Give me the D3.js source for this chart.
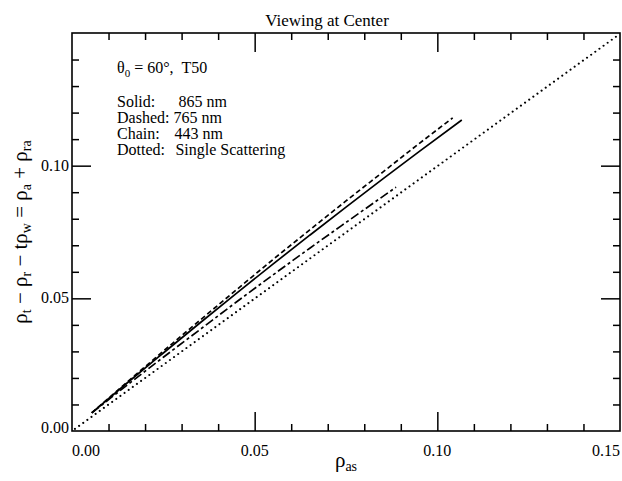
<!DOCTYPE html>
<html>
<head>
<meta charset="utf-8">
<script src="https://cdn.jsdelivr.net/npm/d3@7"></script>
<style>
  html, body { margin: 0; padding: 0; background: #fff; }
  svg { display: block; font-family: "Liberation Serif", "Times New Roman", serif; }
  text { white-space: pre; }
</style>
</head>
<body>
<svg id="chart" width="622" height="481"></svg>
<script>
// Path radiance versus single-scattering reflectance, viewing at scan center
const xTickValues = [0.00, 0.05, 0.10, 0.15];
const yTickValues = [0.00, 0.05, 0.10];
const minorTickValues = d3.range(1, 15).map(i => i / 100).filter(v => Math.abs(v - 0.05) > 1e-9 && Math.abs(v - 0.10) > 1e-9);

// rho_as values and corresponding rho_a + rho_ra
const solid865 = [
  [0.0054, 0.0068], [0.015, 0.0180], [0.025, 0.0294], [0.035, 0.0407],
  [0.045, 0.0519], [0.055, 0.0629], [0.065, 0.0737], [0.075, 0.0844],
  [0.085, 0.0949], [0.095, 0.1053], [0.1067, 0.1172]
];
const dashed765 = [
  [0.0054, 0.0068], [0.015, 0.0183], [0.025, 0.0301], [0.035, 0.0417],
  [0.045, 0.0532], [0.055, 0.0646], [0.065, 0.0757], [0.075, 0.0867],
  [0.085, 0.0975], [0.095, 0.1083], [0.1042, 0.1180]
];
const chain443 = [
  [0.0054, 0.0068], [0.015, 0.0172], [0.025, 0.0278], [0.035, 0.0382],
  [0.045, 0.0486], [0.055, 0.0588], [0.065, 0.0688], [0.075, 0.0786],
  [0.0887, 0.0919]
];
const dottedSingle = [[0.0008, 0.0008], [0.1498, 0.1495]];

const legendRows = [
  { key: "Solid:", value: "865 nm", shift: 5 },
  { key: "Dashed:", value: "765 nm", shift: 0 },
  { key: "Chain:", value: "443 nm", shift: 1 },
  { key: "Dotted:", value: "Single Scattering", shift: 2 }
];

const svg = d3.select("#chart");
const plotLeft = 72, plotRight = 620, plotTop = 33, plotBottom = 431;

const x = d3.scaleLinear().domain([0, 0.15]).range([plotLeft, plotRight]);
const y = d3.scaleLinear().domain([0, 0.15]).range([plotBottom, plotTop]);

const majorLen = 19, minorLen = 7;
const ink = "#000";

// frame
svg.append("rect")
  .attr("x", plotLeft).attr("y", plotTop)
  .attr("width", plotRight - plotLeft).attr("height", plotBottom - plotTop)
  .attr("fill", "none").attr("stroke", ink).attr("stroke-width", 1.6);

// inward ticks on all four sides
function tickSide(gen, vals, len) {
  const g = svg.append("g").call(gen.tickValues(vals).tickSize(len).tickFormat(""));
  g.select(".domain").remove();
  g.selectAll(".tick line").attr("stroke", ink).attr("stroke-width", 1.5);
  return g;
}
const xMajor = [0.05, 0.10];
const yMajor = [0.05, 0.10];
tickSide(d3.axisTop(x), xMajor, majorLen).attr("transform", `translate(0,${plotBottom})`);
tickSide(d3.axisTop(x), minorTickValues, minorLen).attr("transform", `translate(0,${plotBottom})`);
tickSide(d3.axisBottom(x), xMajor, majorLen).attr("transform", `translate(0,${plotTop})`);
tickSide(d3.axisBottom(x), minorTickValues, minorLen).attr("transform", `translate(0,${plotTop})`);
tickSide(d3.axisRight(y), yMajor, majorLen).attr("transform", `translate(${plotLeft},0)`);
tickSide(d3.axisRight(y), minorTickValues, minorLen).attr("transform", `translate(${plotLeft},0)`);
tickSide(d3.axisLeft(y), yMajor, majorLen).attr("transform", `translate(${plotRight},0)`);
tickSide(d3.axisLeft(y), minorTickValues, minorLen).attr("transform", `translate(${plotRight},0)`);

// tick labels
const fmt = d3.format(".2f");
svg.append("g").selectAll("text").data(xTickValues).join("text")
  .attr("x", d => x(d))
  .attr("y", 456)
  .attr("text-anchor", (d, i) => i === 0 ? "start" : (i === xTickValues.length - 1 ? "end" : "middle"))
  .attr("font-size", 16)
  .attr("fill", ink)
  .text(fmt);
svg.append("g").selectAll("text").data(yTickValues).join("text")
  .attr("x", plotLeft - 3)
  .attr("y", d => d === 0 ? y(d) + 2 : y(d) + 5)
  .attr("text-anchor", "end")
  .attr("font-size", 16)
  .attr("fill", ink)
  .text(fmt);

// curves
const line = d3.line().curve(d3.curveMonotoneX).x(d => x(d[0])).y(d => y(d[1]));
const series = [
  { data: solid865, dash: null, cap: "butt" },
  { data: dashed765, dash: "5,3", cap: "butt" },
  { data: chain443, dash: "9,3,3,3", cap: "butt" },
  { data: dottedSingle, dash: "0.1,5", cap: "round" }
];
svg.append("g").selectAll("path").data(series).join("path")
  .attr("d", d => line(d.data))
  .attr("fill", "none")
  .attr("stroke", ink)
  .attr("stroke-width", d => d.cap === "round" ? 2 : 1.7)
  .attr("stroke-linecap", d => d.cap)
  .attr("stroke-dasharray", d => d.dash);

// title
svg.append("text")
  .attr("x", 327).attr("y", 26)
  .attr("text-anchor", "middle")
  .attr("font-size", 17)
  .attr("fill", ink)
  .text("Viewing at Center");

// annotation block
const noteLeft = 117;
const note = svg.append("g").attr("font-size", 16).attr("fill", ink);
const th = note.append("text").attr("x", noteLeft).attr("y", 73);
th.append("tspan").text("θ");
th.append("tspan").attr("font-size", 11).attr("dy", 4).text("0");
th.append("tspan").attr("dy", -4).text(" = 60°,  T50");

const rowY = [106.5, 122.5, 138.5, 154.5];
const keys = note.selectAll("text.key").data(legendRows).join("text")
  .attr("class", "key")
  .attr("x", noteLeft)
  .attr("y", (d, i) => rowY[i])
  .text(d => d.key);
// values start just past the widest key, as in a tabbed list
const keyWidth = d3.max(keys.nodes(), n => n.getComputedTextLength());
const valueX = noteLeft + keyWidth + 4;
note.selectAll("text.val").data(legendRows).join("text")
  .attr("class", "val")
  .attr("x", d => valueX + d.shift)
  .attr("y", (d, i) => rowY[i])
  .text(d => d.value);

// x-axis title
const xt = svg.append("text")
  .attr("x", (plotLeft + plotRight) / 2).attr("y", 467)
  .attr("text-anchor", "middle")
  .attr("font-size", 21).attr("fill", ink);
xt.append("tspan").text("ρ");
xt.append("tspan").attr("font-size", 14).attr("dy", 4).text("as");

// y-axis title
const yt = svg.append("text")
  .attr("transform", `translate(27,${(plotTop + plotBottom) / 2}) rotate(-90)`)
  .attr("text-anchor", "middle")
  .attr("font-size", 21).attr("fill", ink);
const parts = [["ρ", "t"], [" − ρ", "r"], [" − tρ", "w"], [" = ρ", "a"], [" + ρ", "ra"]];
parts.forEach((p, i) => {
  yt.append("tspan").attr("font-size", 21).attr("dy", i === 0 ? 0 : -4).text(p[0]);
  yt.append("tspan").attr("font-size", 14).attr("dy", 4).text(p[1]);
});
</script>
</body>
</html>
